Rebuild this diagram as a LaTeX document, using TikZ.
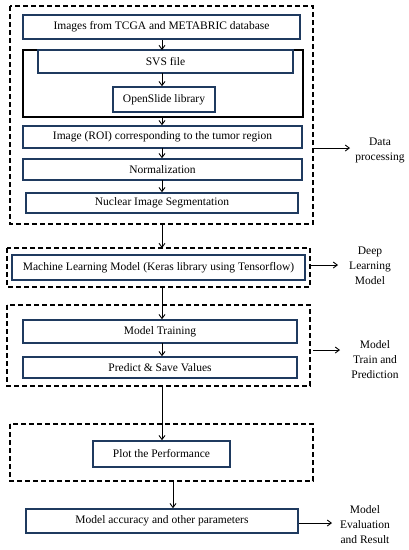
\documentclass[tikz,border=0pt]{standalone}
\usepackage{fontspec}
\setmainfont{Liberation Serif}
\usetikzlibrary{arrows.meta}
\definecolor{navy}{HTML}{1F3A5F}
\begin{document}
\begin{tikzpicture}[x=1pt,y=-1pt,
  bx/.style={draw=navy,line width=1.6pt,fill=white,inner sep=0pt,font=\fontsize{11.5}{13}\selectfont},
  grp/.style={draw=black,line width=1.4pt,dash pattern=on 5pt off 3pt},
  ar/.style={-{Straight Barb[length=4pt,width=6pt]},line width=0.9pt},
  lbl/.style={align=center,font=\fontsize{11.5}{15}\selectfont,inner sep=0pt}]
\useasboundingbox (0,0) rectangle (409,550);
% group boxes
\draw[grp] (10,6) rectangle (313,224);
\draw[grp] (7,248) rectangle (310,287);
\draw[grp] (7,305) rectangle (310,386);
\draw[grp] (10,424) rectangle (313,481);
\draw[line width=1.4pt] (23,50) rectangle (303,117);
% boxes
\node[bx,minimum width=277pt,minimum height=24pt] (b1) at (161.5,27) {Images from TCGA and METABRIC database};
\node[bx,minimum width=255pt,minimum height=23pt] (b2) at (165.5,61.5) {SVS file};
\node[bx,minimum width=102pt,minimum height=25pt] (b3) at (164,99.5) {OpenSlide library};
\node[bx,minimum width=279pt,minimum height=22pt] (b4) at (162.5,137) {Image (ROI) corresponding to the tumor region};
\node[bx,minimum width=279pt,minimum height=21pt] (b5) at (162.5,169.5) {Normalization};
\node[bx,minimum width=272pt,minimum height=20pt] (b6) at (162,203) {Nuclear Image Segmentation};
\node[bx,minimum width=293pt,minimum height=25pt] (b7) at (158.5,267.5) {Machine Learning Model (Keras library using Tensorflow)};
\node[bx,minimum width=274pt,minimum height=23pt] (b8) at (160,331.5) {Model Training};
\node[bx,minimum width=274pt,minimum height=21pt] (b9) at (160,367.5) {Predict \& Save Values};
\node[bx,minimum width=137pt,minimum height=26pt] (b10) at (161.5,454) {Plot the Performance};
\node[bx,minimum width=272pt,minimum height=24pt] (b11) at (162,521) {Model accuracy and other parameters};
% coordinates on group borders
\coordinate (g1b) at (162,224);
\coordinate (g2t) at (162,248);
\coordinate (g2b) at (162,287);
\coordinate (g3b) at (162,386);
\coordinate (g4b) at (173,481);
\coordinate (g1r) at (313,148);
\coordinate (g2r) at (310,265);
\coordinate (g3r) at (313,350);
% labels
\node[lbl] (l1) at (380,150) {Data\\processing};
\node[lbl] (l2) at (370,265.5) {Deep\\Learning\\Model};
\node[lbl] (l3) at (375,360) {Model\\Train and\\Prediction};
\node[lbl] (l4) at (365,525) {Model\\Evaluation\\and Result};
% arrows
\draw[ar] (b1.south -| 162,0) -- (162,50);
\draw[ar] (162,73) -- (b3.north -| 162,0);
\draw[ar] (162,117) -- (b4.north -| 162,0);
\draw[ar] (162,148) -- (b5.north -| 162,0);
\draw[ar] (162,180) -- (b6.north -| 162,0);
\draw[ar] (g1b) -- (g2t);
\draw[ar] (g2b) -- (b8.north -| g2b);
\draw[ar] (162,343) -- (b9.north -| 162,0);
\draw[ar] (g3b) -- (b10.north -| g3b);
\draw[ar] (g4b) -- (b11.north -| g4b);
\draw[ar] (g1r) -- (350,148);
\draw[ar] (g2r) -- (338,265);
\draw[ar] (g3r) -- (340,350);
\draw[ar] (b11.east |- 0,523) -- (332,523);
\end{tikzpicture}
\end{document}
